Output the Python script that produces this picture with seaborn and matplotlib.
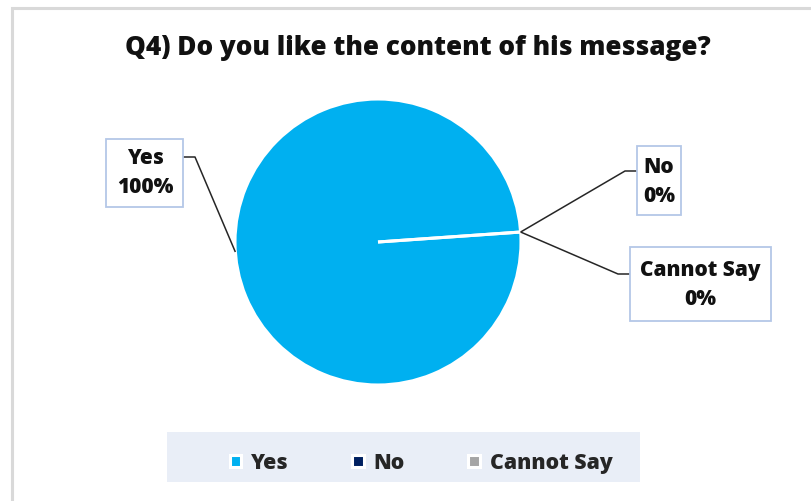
import matplotlib
matplotlib.use("Agg")
import matplotlib.pyplot as plt
from matplotlib.patches import Rectangle
import numpy as np
import seaborn as sns

# ---- data ----
categories = ["Yes", "No", "Cannot Say"]
values = [100, 0, 0]
pct_labels = ["100%", "0%", "0%"]
colors = ["#00B0F0", "#002060", "#A5A5A5"]
title = "Q4) Do you like the content of his message?"

sns.set_theme(style="white")
plt.rcParams["font.family"] = ["Open Sans", "DejaVu Sans"]

W, H = 812, 502
fig = plt.figure(figsize=(W / 100, H / 100), dpi=100)
fig.patch.set_facecolor("white")

# outer chart border (light gray, cut off at right/bottom)
fig.add_artist(Rectangle((12 / W, -0.1), 1.2, (H - 9) / H + 0.1,
                         transform=fig.transFigure, fill=False,
                         edgecolor="#D9D9D9", linewidth=2.2))

ax = fig.add_axes([0, 0, 1, 1])
CX, CY, R = 378, 243, 143  # pixel layout of the pie


def P(px, py):
    """pixel (from top-left) -> data coordinates (pie radius = 1)"""
    return ((px - CX) / R, (CY - py) / R)


wedges, _ = ax.pie(values, colors=colors, startangle=4, counterclock=True,
                   radius=1.0, center=(0, 0),
                   wedgeprops=dict(edgecolor="white", linewidth=2.2))
ax.set_xlim(-CX / R, (W - CX) / R)
ax.set_ylim(-(H - CY) / R, CY / R)
ax.set_aspect("equal")
ax.axis("off")

# legend background band
ax.add_patch(Rectangle(P(167, 483), (640 - 167) / R, (483 - 433) / R,
                       facecolor="#E9EEF7", edgecolor="none", zorder=0))

# label boxes: (text center px, box left/right/top/bottom, elbow px, attach px)
boxes = {
    "Yes": dict(center=(145, 173), box=(106, 183, 140, 208),
                elbow=(195, 158), attach=(183, 158)),
    "No": dict(center=(659, 182), box=(637, 681, 147, 216),
               elbow=(625, 172), attach=(637, 172)),
    "Cannot Say": dict(center=(700, 285), box=(630, 771, 248, 322),
                       elbow=(618, 275), attach=(630, 275)),
}

for w, cat, pct in zip(wedges, categories, pct_labels):
    b = boxes[cat]
    mid = np.deg2rad((w.theta1 + w.theta2) / 2.0)
    ex, ey = w.r * np.cos(mid), w.r * np.sin(mid)
    l, r, t, bt = b["box"]
    ax.add_patch(Rectangle(P(l, bt), (r - l) / R, (bt - t) / R,
                           facecolor="white", edgecolor="#B4C7E7",
                           linewidth=1.3, zorder=4))
    cx, cy = P(*b["center"])
    ax.text(cx, cy, f"{cat}\n{pct}", ha="center", va="center",
            fontsize=15, fontweight=800, color="#111111",
            linespacing=1.5, zorder=5)
    elx, ely = P(*b["elbow"])
    atx, aty = P(*b["attach"])
    ax.plot([ex, elx, atx], [ey, ely, aty], color="#262626",
            linewidth=1.1, zorder=3, solid_capstyle="butt")

fig.text(418 / W, 1 - 48 / H, title, ha="center", va="center",
         fontsize=18.8, fontweight=800, color="#111111")

leg = ax.legend(wedges, categories, loc="center",
                bbox_to_anchor=(P(421, 464)), bbox_transform=ax.transData,
                ncol=3, frameon=False,
                handlelength=0.55, handleheight=0.55, handletextpad=0.45,
                columnspacing=3.0, prop=dict(weight=800, size=15.3))

fig.savefig("out.png", dpi=100, facecolor="white")
